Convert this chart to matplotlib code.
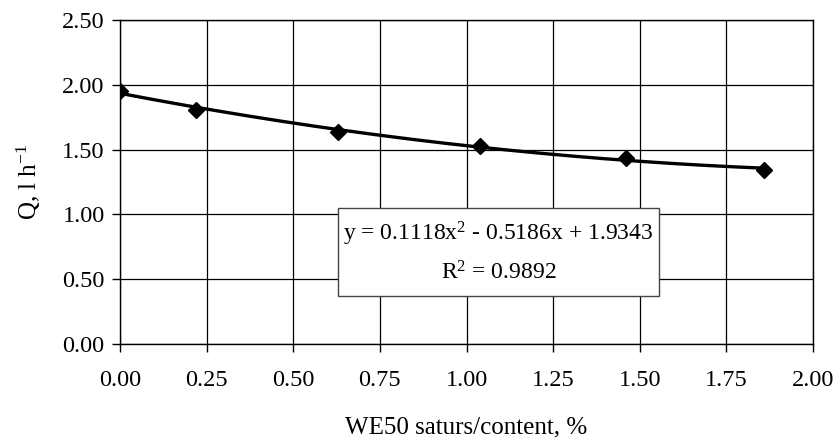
import numpy as np
import matplotlib
matplotlib.use("Agg")
import matplotlib.pyplot as plt
from matplotlib.patches import Rectangle

x_vals = [0.00, 0.22, 0.63, 1.04, 1.46, 1.86]
q_vals = [1.955, 1.806, 1.638, 1.528, 1.438, 1.343]
x_ticks = [0.00, 0.25, 0.50, 0.75, 1.00, 1.25, 1.50, 1.75, 2.00]
y_ticks = [0.00, 0.50, 1.00, 1.50, 2.00, 2.50]
eq_line1 = "y = 0.1118x$^2$ - 0.5186x + 1.9343"
eq_line2 = "R$^2$ = 0.9892"

plt.rcParams['font.family'] = ['Liberation Serif', 'DejaVu Serif']
plt.rcParams['mathtext.fontset'] = 'custom'
plt.rcParams['mathtext.rm'] = 'Liberation Serif'
plt.rcParams['mathtext.it'] = 'Liberation Serif'

fig = plt.figure(figsize=(8.36, 4.41), dpi=100)
ax = fig.add_axes([120/836, 1-344/441, (813-120)/836, (344-20)/441])

coef = np.polyfit(x_vals, q_vals, 2)
xf = np.linspace(min(x_vals), max(x_vals), 200)
ax.plot(xf, np.polyval(coef, xf), color='black', lw=2.4, zorder=3)
ax.plot(x_vals, q_vals, linestyle='none', marker='D', color='black', ms=8.5, zorder=4)

ax.set_xlim(0, 2)
ax.set_ylim(0, 2.5)
ax.set_xticks(x_ticks)
ax.set_yticks(y_ticks)
ax.set_xticklabels([f"{v:.2f}" for v in x_ticks])
ax.set_yticklabels([f"{v:.2f}" for v in y_ticks])
ax.tick_params(labelsize=17.5, length=6, width=1, color='black', pad=5)
ax.tick_params(axis='x', pad=13)
ax.grid(True, color='black', lw=0.9)
ax.set_axisbelow(True)
for s in ax.spines.values():
    s.set_color('black')
    s.set_linewidth(1)

box = Rectangle((0.628, 0.370), 1.556-0.628, 1.049-0.370, fc='white', ec='#444444', lw=1, zorder=5)
ax.add_patch(box)
ax.text(1.092, 0.85, eq_line1, fontsize=17, ha='center', va='center', zorder=6)
ax.text(1.092, 0.55, eq_line2, fontsize=17, ha='center', va='center', zorder=6)

fig.text((120+813)/2/836, 1-427/441, "WE50 saturs/content, %", fontsize=18, ha='center', va='center')
ax.set_ylabel("Q, l h$^{-1}$", fontsize=18, labelpad=14)

fig.savefig("out.png", dpi=100)
